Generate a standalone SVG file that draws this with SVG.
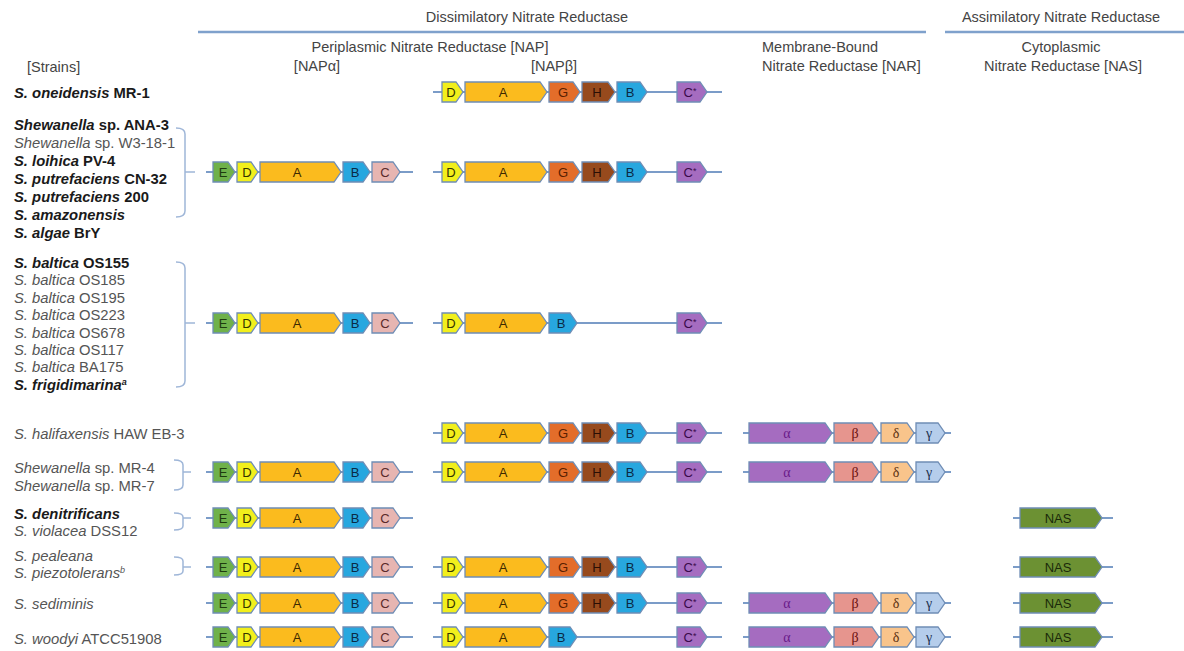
<svg xmlns="http://www.w3.org/2000/svg" width="1184" height="651" viewBox="0 0 1184 651">
<style>
text{font-family:"Liberation Sans",Arial,sans-serif}
.hd{font-size:14.5px;fill:#444}
.st{font-size:14.8px;fill:#333}
.b{font-weight:bold;fill:#1a1a1a}
.i{font-style:italic}
.lt{fill:#555}
.ln{stroke:#7b9cc8;stroke-width:2;fill:none}
.hl{stroke:#7fa1cc;stroke-width:2.5;fill:none}
.br{stroke:#9fb6d8;stroke-width:1.5;fill:none}
.g path{stroke:#6f8db5;stroke-width:1.3}
.g text{font-size:13px;text-anchor:middle}
.gk{font-family:"Liberation Serif","Times New Roman",serif!important;font-size:14px!important}
.E{fill:#6fb14a}.D{fill:#f2ef1c}.A{fill:#fbbb1e}.B{fill:#27a7df}.C{fill:#e7b5b1}
.G{fill:#e36d2a}.H{fill:#974a1d}.Cs{fill:#a56cc0}
.al{fill:#a56cc0}.be{fill:#e6958e}.de{fill:#f9c48b}.ga{fill:#b5cdeb}.NS{fill:#6c9133}
.tE{fill:#1f3b10}.tD{fill:#333300}.tA{fill:#3d2a00}.tG{fill:#5a1f00}.tH{fill:#2a0f05}.tB{fill:#0a2a45}.tC{fill:#5a2a2a}.tCs{fill:#3a0a4a}
.tal{fill:#6a1a8a}.tbe{fill:#6a1010}.tde{fill:#5a3010}.tga{fill:#203050}.tNS{fill:#1a2a0a}
</style>

<g id="headers">
<text class="hd" x="527" y="22" text-anchor="middle">Dissimilatory Nitrate Reductase</text>
<text class="hd" x="1061" y="22" text-anchor="middle">Assimilatory Nitrate Reductase</text>
<line class="hl" x1="198" y1="32" x2="926" y2="32"/>
<line class="hl" x1="945" y1="32" x2="1184" y2="32"/>
<text class="hd" x="430" y="52" text-anchor="middle">Periplasmic Nitrate Reductase [NAP]</text>
<text class="hd" x="317" y="71" text-anchor="middle">[NAPα]</text>
<text class="hd" x="554" y="71" text-anchor="middle">[NAPβ]</text>
<text class="hd" x="762" y="52">Membrane-Bound</text>
<text class="hd" x="762" y="71">Nitrate Reductase [NAR]</text>
<text class="hd" x="1061" y="52" text-anchor="middle">Cytoplasmic</text>
<text class="hd" x="1063" y="71" text-anchor="middle">Nitrate Reductase [NAS]</text>
<text class="hd" x="27" y="72">[Strains]</text>
</g>

<g id="strains">
<text class="st b" x="14" y="98"><tspan class="i">S. oneidensis</tspan> MR-1</text>
<text class="st b" x="14" y="130"><tspan class="i">Shewanella</tspan> sp. ANA-3</text>
<text class="st lt" x="14" y="148"><tspan class="i">Shewanella</tspan> sp. W3-18-1</text>
<text class="st b" x="14" y="166"><tspan class="i">S. loihica</tspan> PV-4</text>
<text class="st b" x="14" y="184"><tspan class="i">S. putrefaciens</tspan> CN-32</text>
<text class="st b" x="14" y="202"><tspan class="i">S. putrefaciens</tspan> 200</text>
<text class="st b i" x="14" y="220">S. amazonensis</text>
<text class="st b" x="14" y="238"><tspan class="i">S. algae</tspan> BrY</text>

<text class="st b" x="14" y="268"><tspan class="i">S. baltica</tspan> OS155</text>
<text class="st lt" x="14" y="285.4"><tspan class="i">S. baltica</tspan> OS185</text>
<text class="st lt" x="14" y="302.8"><tspan class="i">S. baltica</tspan> OS195</text>
<text class="st lt" x="14" y="320.2"><tspan class="i">S. baltica</tspan> OS223</text>
<text class="st lt" x="14" y="337.6"><tspan class="i">S. baltica</tspan> OS678</text>
<text class="st lt" x="14" y="355"><tspan class="i">S. baltica</tspan> OS117</text>
<text class="st lt" x="14" y="372.4"><tspan class="i">S. baltica</tspan> BA175</text>
<text class="st b i" x="14" y="389.8">S. frigidimarina<tspan font-size="9" dy="-5">a</tspan></text>

<text class="st lt" x="14" y="439"><tspan class="i">S. halifaxensis</tspan> HAW EB-3</text>
<text class="st lt" x="14" y="473"><tspan class="i">Shewanella</tspan> sp. MR-4</text>
<text class="st lt" x="14" y="491"><tspan class="i">Shewanella</tspan> sp. MR-7</text>
<text class="st b i" x="14" y="519">S. denitrificans</text>
<text class="st lt" x="14" y="536"><tspan class="i">S. violacea</tspan> DSS12</text>
<text class="st lt i" x="14" y="561">S. pealeana</text>
<text class="st lt i" x="14" y="578">S. piezotolerans<tspan font-size="9" dy="-5">b</tspan></text>
<text class="st lt i" x="14" y="609">S. sediminis</text>
<text class="st lt" x="14" y="644"><tspan class="i">S. woodyi</tspan> ATCC51908</text>
</g>

<g id="connectors">
<path class="br" d="M176,128Q185,128 185,134V211Q185,217 176,217M185,172H195"/>
<path class="br" d="M176,262Q185,262 185,268V381Q185,387 176,387M185,323H195"/>
<path class="br" d="M174,460Q183,460 183,465V485Q183,490 174,490M183,472H191"/>
<path class="br" d="M174,513Q183,513 183,517V526Q183,530 174,530M183,518H191"/>
<path class="br" d="M174,557Q183,557 183,561V571Q183,575 174,575M183,567H191"/>
<g transform="translate(0,92)"><line class="ln" x1="433" y1="0" x2="722" y2="0"/></g>
<g transform="translate(0,172)"><line class="ln" x1="206" y1="0" x2="413" y2="0"/><line class="ln" x1="433" y1="0" x2="722" y2="0"/></g>
<g transform="translate(0,323)"><line class="ln" x1="206" y1="0" x2="413" y2="0"/><line class="ln" x1="433" y1="0" x2="722" y2="0"/></g>
<g transform="translate(0,433)"><line class="ln" x1="433" y1="0" x2="722" y2="0"/><line class="ln" x1="743" y1="0" x2="951" y2="0"/></g>
<g transform="translate(0,472)"><line class="ln" x1="206" y1="0" x2="413" y2="0"/><line class="ln" x1="433" y1="0" x2="722" y2="0"/><line class="ln" x1="743" y1="0" x2="951" y2="0"/></g>
<g transform="translate(0,518)"><line class="ln" x1="206" y1="0" x2="413" y2="0"/><line class="ln" x1="1013" y1="0" x2="1113" y2="0"/></g>
<g transform="translate(0,567)"><line class="ln" x1="206" y1="0" x2="413" y2="0"/><line class="ln" x1="433" y1="0" x2="722" y2="0"/><line class="ln" x1="1013" y1="0" x2="1113" y2="0"/></g>
<g transform="translate(0,603)"><line class="ln" x1="206" y1="0" x2="413" y2="0"/><line class="ln" x1="433" y1="0" x2="722" y2="0"/><line class="ln" x1="743" y1="0" x2="951" y2="0"/><line class="ln" x1="1013" y1="0" x2="1113" y2="0"/></g>
<g transform="translate(0,637)"><line class="ln" x1="206" y1="0" x2="413" y2="0"/><line class="ln" x1="433" y1="0" x2="722" y2="0"/><line class="ln" x1="743" y1="0" x2="951" y2="0"/><line class="ln" x1="1013" y1="0" x2="1113" y2="0"/></g>
</g>

<!-- Row 1 -->
<g id="row1-napB" class="g" transform="translate(0,92)">
<path class="D" d="M442,-10H456L463,0L456,10H442Z"/><text class="tD" x="451" y="4.5">D</text>
<path class="A" d="M465,-10H540L547,0L540,10H465Z"/><text class="tA" x="503" y="4.5">A</text>
<path class="G" d="M549,-10H573L580,0L573,10H549Z"/><text class="tG" x="563" y="4.5">G</text>
<path class="H" d="M582,-10H608L615,0L608,10H582Z"/><text class="tH" x="597" y="4.5">H</text>
<path class="B" d="M617,-10H640L647,0L640,10H617Z"/><text class="tB" x="630" y="4.5">B</text>
<path class="Cs" d="M677,-10H700L707,0L700,10H677Z"/><text class="tCs" x="690" y="4.5">C<tspan font-size="9" dy="-3">*</tspan></text>
</g>

<!-- Row 2 -->
<g id="row2-napA" class="g" transform="translate(0,172)">
<path class="E" d="M213,-10H228L235,0L228,10H213Z"/><text class="tE" x="223" y="4.5">E</text>
<path class="D" d="M237,-10H251L258,0L251,10H237Z"/><text class="tD" x="247" y="4.5">D</text>
<path class="A" d="M260,-10H334L341,0L334,10H260Z"/><text class="tA" x="297" y="4.5">A</text>
<path class="B" d="M343,-10H363L370,0L363,10H343Z"/><text class="tB" x="355" y="4.5">B</text>
<path class="C" d="M372,-10H393L400,0L393,10H372Z"/><text class="tC" x="385" y="4.5">C</text>
</g>
<g id="row2-napB" class="g" transform="translate(0,172)">
<path class="D" d="M442,-10H456L463,0L456,10H442Z"/><text class="tD" x="451" y="4.5">D</text>
<path class="A" d="M465,-10H540L547,0L540,10H465Z"/><text class="tA" x="503" y="4.5">A</text>
<path class="G" d="M549,-10H573L580,0L573,10H549Z"/><text class="tG" x="563" y="4.5">G</text>
<path class="H" d="M582,-10H608L615,0L608,10H582Z"/><text class="tH" x="597" y="4.5">H</text>
<path class="B" d="M617,-10H640L647,0L640,10H617Z"/><text class="tB" x="630" y="4.5">B</text>
<path class="Cs" d="M677,-10H700L707,0L700,10H677Z"/><text class="tCs" x="690" y="4.5">C<tspan font-size="9" dy="-3">*</tspan></text>
</g>

<!-- Row 3 -->
<g id="row3-napA" class="g" transform="translate(0,323)">
<path class="E" d="M213,-10H228L235,0L228,10H213Z"/><text class="tE" x="223" y="4.5">E</text>
<path class="D" d="M237,-10H251L258,0L251,10H237Z"/><text class="tD" x="247" y="4.5">D</text>
<path class="A" d="M260,-10H334L341,0L334,10H260Z"/><text class="tA" x="297" y="4.5">A</text>
<path class="B" d="M343,-10H363L370,0L363,10H343Z"/><text class="tB" x="355" y="4.5">B</text>
<path class="C" d="M372,-10H393L400,0L393,10H372Z"/><text class="tC" x="385" y="4.5">C</text>
</g>
<g id="row3-napB" class="g" transform="translate(0,323)">
<path class="D" d="M442,-10H456L463,0L456,10H442Z"/><text class="tD" x="451" y="4.5">D</text>
<path class="A" d="M465,-10H540L547,0L540,10H465Z"/><text class="tA" x="503" y="4.5">A</text>
<path class="B" d="M549,-10H570L577,0L570,10H549Z"/><text class="tB" x="561" y="4.5">B</text>
<path class="Cs" d="M677,-10H700L707,0L700,10H677Z"/><text class="tCs" x="690" y="4.5">C<tspan font-size="9" dy="-3">*</tspan></text>
</g>

<!-- Row 4 -->
<g id="row4-napB" class="g" transform="translate(0,433)">
<path class="D" d="M442,-10H456L463,0L456,10H442Z"/><text class="tD" x="451" y="4.5">D</text>
<path class="A" d="M465,-10H540L547,0L540,10H465Z"/><text class="tA" x="503" y="4.5">A</text>
<path class="G" d="M549,-10H573L580,0L573,10H549Z"/><text class="tG" x="563" y="4.5">G</text>
<path class="H" d="M582,-10H608L615,0L608,10H582Z"/><text class="tH" x="597" y="4.5">H</text>
<path class="B" d="M617,-10H640L647,0L640,10H617Z"/><text class="tB" x="630" y="4.5">B</text>
<path class="Cs" d="M677,-10H700L707,0L700,10H677Z"/><text class="tCs" x="690" y="4.5">C<tspan font-size="9" dy="-3">*</tspan></text>
</g>
<g id="row4-nar" class="g" transform="translate(0,433)">
<path class="al" d="M749,-10H825L832,0L825,10H749Z"/><text class="tal gk" x="787" y="4.5">α</text>
<path class="be" d="M834,-10H872L879,0L872,10H834Z"/><text class="tbe gk" x="855" y="4.5">β</text>
<path class="de" d="M881,-10H907L914,0L907,10H881Z"/><text class="tde gk" x="896" y="4.5">δ</text>
<path class="ga" d="M916,-10H938L945,0L938,10H916Z"/><text class="tga gk" x="929" y="4.5">γ</text>
</g>

<!-- Row 5 -->
<g id="row5-napA" class="g" transform="translate(0,472)">
<path class="E" d="M213,-10H228L235,0L228,10H213Z"/><text class="tE" x="223" y="4.5">E</text>
<path class="D" d="M237,-10H251L258,0L251,10H237Z"/><text class="tD" x="247" y="4.5">D</text>
<path class="A" d="M260,-10H334L341,0L334,10H260Z"/><text class="tA" x="297" y="4.5">A</text>
<path class="B" d="M343,-10H363L370,0L363,10H343Z"/><text class="tB" x="355" y="4.5">B</text>
<path class="C" d="M372,-10H393L400,0L393,10H372Z"/><text class="tC" x="385" y="4.5">C</text>
</g>
<g id="row5-napB" class="g" transform="translate(0,472)">
<path class="D" d="M442,-10H456L463,0L456,10H442Z"/><text class="tD" x="451" y="4.5">D</text>
<path class="A" d="M465,-10H540L547,0L540,10H465Z"/><text class="tA" x="503" y="4.5">A</text>
<path class="G" d="M549,-10H573L580,0L573,10H549Z"/><text class="tG" x="563" y="4.5">G</text>
<path class="H" d="M582,-10H608L615,0L608,10H582Z"/><text class="tH" x="597" y="4.5">H</text>
<path class="B" d="M617,-10H640L647,0L640,10H617Z"/><text class="tB" x="630" y="4.5">B</text>
<path class="Cs" d="M677,-10H700L707,0L700,10H677Z"/><text class="tCs" x="690" y="4.5">C<tspan font-size="9" dy="-3">*</tspan></text>
</g>
<g id="row5-nar" class="g" transform="translate(0,472)">
<path class="al" d="M749,-10H825L832,0L825,10H749Z"/><text class="tal gk" x="787" y="4.5">α</text>
<path class="be" d="M834,-10H872L879,0L872,10H834Z"/><text class="tbe gk" x="855" y="4.5">β</text>
<path class="de" d="M881,-10H907L914,0L907,10H881Z"/><text class="tde gk" x="896" y="4.5">δ</text>
<path class="ga" d="M916,-10H938L945,0L938,10H916Z"/><text class="tga gk" x="929" y="4.5">γ</text>
</g>

<!-- Row 6 -->
<g id="row6-napA" class="g" transform="translate(0,518)">
<path class="E" d="M213,-10H228L235,0L228,10H213Z"/><text class="tE" x="223" y="4.5">E</text>
<path class="D" d="M237,-10H251L258,0L251,10H237Z"/><text class="tD" x="247" y="4.5">D</text>
<path class="A" d="M260,-10H334L341,0L334,10H260Z"/><text class="tA" x="297" y="4.5">A</text>
<path class="B" d="M343,-10H363L370,0L363,10H343Z"/><text class="tB" x="355" y="4.5">B</text>
<path class="C" d="M372,-10H393L400,0L393,10H372Z"/><text class="tC" x="385" y="4.5">C</text>
</g>
<g id="row6-nas" class="g" transform="translate(0,518)">
<path class="NS" d="M1020,-10H1095L1102,0L1095,10H1020Z"/><text class="tNS" x="1058" y="4.5">NAS</text>
</g>

<!-- Row 7 -->
<g id="row7-napA" class="g" transform="translate(0,567)">
<path class="E" d="M213,-10H228L235,0L228,10H213Z"/><text class="tE" x="223" y="4.5">E</text>
<path class="D" d="M237,-10H251L258,0L251,10H237Z"/><text class="tD" x="247" y="4.5">D</text>
<path class="A" d="M260,-10H334L341,0L334,10H260Z"/><text class="tA" x="297" y="4.5">A</text>
<path class="B" d="M343,-10H363L370,0L363,10H343Z"/><text class="tB" x="355" y="4.5">B</text>
<path class="C" d="M372,-10H393L400,0L393,10H372Z"/><text class="tC" x="385" y="4.5">C</text>
</g>
<g id="row7-napB" class="g" transform="translate(0,567)">
<path class="D" d="M442,-10H456L463,0L456,10H442Z"/><text class="tD" x="451" y="4.5">D</text>
<path class="A" d="M465,-10H540L547,0L540,10H465Z"/><text class="tA" x="503" y="4.5">A</text>
<path class="G" d="M549,-10H573L580,0L573,10H549Z"/><text class="tG" x="563" y="4.5">G</text>
<path class="H" d="M582,-10H608L615,0L608,10H582Z"/><text class="tH" x="597" y="4.5">H</text>
<path class="B" d="M617,-10H640L647,0L640,10H617Z"/><text class="tB" x="630" y="4.5">B</text>
<path class="Cs" d="M677,-10H700L707,0L700,10H677Z"/><text class="tCs" x="690" y="4.5">C<tspan font-size="9" dy="-3">*</tspan></text>
</g>
<g id="row7-nas" class="g" transform="translate(0,567)">
<path class="NS" d="M1020,-10H1095L1102,0L1095,10H1020Z"/><text class="tNS" x="1058" y="4.5">NAS</text>
</g>

<!-- Row 8 -->
<g id="row8-napA" class="g" transform="translate(0,603)">
<path class="E" d="M213,-10H228L235,0L228,10H213Z"/><text class="tE" x="223" y="4.5">E</text>
<path class="D" d="M237,-10H251L258,0L251,10H237Z"/><text class="tD" x="247" y="4.5">D</text>
<path class="A" d="M260,-10H334L341,0L334,10H260Z"/><text class="tA" x="297" y="4.5">A</text>
<path class="B" d="M343,-10H363L370,0L363,10H343Z"/><text class="tB" x="355" y="4.5">B</text>
<path class="C" d="M372,-10H393L400,0L393,10H372Z"/><text class="tC" x="385" y="4.5">C</text>
</g>
<g id="row8-napB" class="g" transform="translate(0,603)">
<path class="D" d="M442,-10H456L463,0L456,10H442Z"/><text class="tD" x="451" y="4.5">D</text>
<path class="A" d="M465,-10H540L547,0L540,10H465Z"/><text class="tA" x="503" y="4.5">A</text>
<path class="G" d="M549,-10H573L580,0L573,10H549Z"/><text class="tG" x="563" y="4.5">G</text>
<path class="H" d="M582,-10H608L615,0L608,10H582Z"/><text class="tH" x="597" y="4.5">H</text>
<path class="B" d="M617,-10H640L647,0L640,10H617Z"/><text class="tB" x="630" y="4.5">B</text>
<path class="Cs" d="M677,-10H700L707,0L700,10H677Z"/><text class="tCs" x="690" y="4.5">C<tspan font-size="9" dy="-3">*</tspan></text>
</g>
<g id="row8-nar" class="g" transform="translate(0,603)">
<path class="al" d="M749,-10H825L832,0L825,10H749Z"/><text class="tal gk" x="787" y="4.5">α</text>
<path class="be" d="M834,-10H872L879,0L872,10H834Z"/><text class="tbe gk" x="855" y="4.5">β</text>
<path class="de" d="M881,-10H907L914,0L907,10H881Z"/><text class="tde gk" x="896" y="4.5">δ</text>
<path class="ga" d="M916,-10H938L945,0L938,10H916Z"/><text class="tga gk" x="929" y="4.5">γ</text>
</g>
<g id="row8-nas" class="g" transform="translate(0,603)">
<path class="NS" d="M1020,-10H1095L1102,0L1095,10H1020Z"/><text class="tNS" x="1058" y="4.5">NAS</text>
</g>

<!-- Row 9 -->
<g id="row9-napA" class="g" transform="translate(0,637)">
<path class="E" d="M213,-10H228L235,0L228,10H213Z"/><text class="tE" x="223" y="4.5">E</text>
<path class="D" d="M237,-10H251L258,0L251,10H237Z"/><text class="tD" x="247" y="4.5">D</text>
<path class="A" d="M260,-10H334L341,0L334,10H260Z"/><text class="tA" x="297" y="4.5">A</text>
<path class="B" d="M343,-10H363L370,0L363,10H343Z"/><text class="tB" x="355" y="4.5">B</text>
<path class="C" d="M372,-10H393L400,0L393,10H372Z"/><text class="tC" x="385" y="4.5">C</text>
</g>
<g id="row9-napB" class="g" transform="translate(0,637)">
<path class="D" d="M442,-10H456L463,0L456,10H442Z"/><text class="tD" x="451" y="4.5">D</text>
<path class="A" d="M465,-10H540L547,0L540,10H465Z"/><text class="tA" x="503" y="4.5">A</text>
<path class="B" d="M549,-10H570L577,0L570,10H549Z"/><text class="tB" x="561" y="4.5">B</text>
<path class="Cs" d="M677,-10H700L707,0L700,10H677Z"/><text class="tCs" x="690" y="4.5">C<tspan font-size="9" dy="-3">*</tspan></text>
</g>
<g id="row9-nar" class="g" transform="translate(0,637)">
<path class="al" d="M749,-10H825L832,0L825,10H749Z"/><text class="tal gk" x="787" y="4.5">α</text>
<path class="be" d="M834,-10H872L879,0L872,10H834Z"/><text class="tbe gk" x="855" y="4.5">β</text>
<path class="de" d="M881,-10H907L914,0L907,10H881Z"/><text class="tde gk" x="896" y="4.5">δ</text>
<path class="ga" d="M916,-10H938L945,0L938,10H916Z"/><text class="tga gk" x="929" y="4.5">γ</text>
</g>
<g id="row9-nas" class="g" transform="translate(0,637)">
<path class="NS" d="M1020,-10H1095L1102,0L1095,10H1020Z"/><text class="tNS" x="1058" y="4.5">NAS</text>
</g>
</svg>
